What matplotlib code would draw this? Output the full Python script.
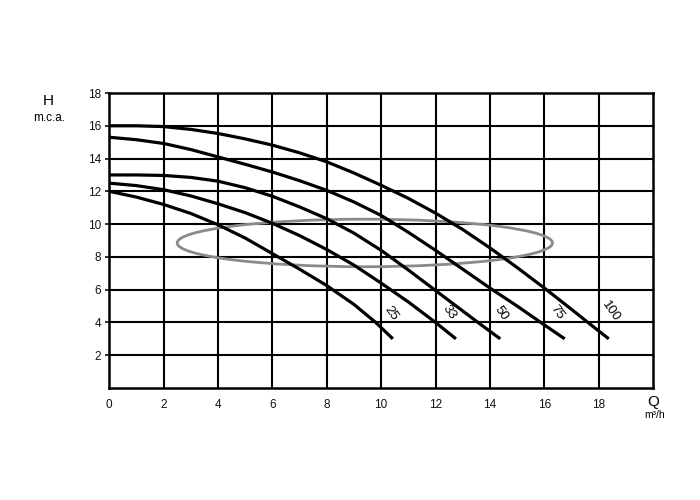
import numpy as np
import matplotlib.pyplot as plt
from matplotlib.patches import Ellipse

plt.rcParams['font.family'] = ['Liberation Sans', 'DejaVu Sans']

# pump curves (Q in m3/h, H in m.c.a.)
q_25 = [0, 1, 2, 3, 4, 5, 6, 7, 8, 9, 9.8, 10.43]
h_25 = [12.0, 11.65, 11.2, 10.65, 9.96, 9.15, 8.2, 7.25, 6.25, 5.1, 4.0, 3.0]

q_33 = [0, 1, 2, 3, 4, 5, 6, 7, 8, 9, 10, 11, 12, 12.75]
h_33 = [12.5, 12.35, 12.1, 11.72, 11.24, 10.7, 10.05, 9.3, 8.45, 7.5, 6.4, 5.25, 4.0, 3.0]

q_50 = [0, 1, 2, 3, 4, 5, 6, 7, 8, 9, 10, 11, 12, 13, 13.6, 14.38]
h_50 = [13.0, 13.0, 12.97, 12.85, 12.62, 12.22, 11.7, 11.05, 10.33, 9.45, 8.4, 7.2, 5.95, 4.7, 3.95, 3.0]

q_75 = [0, 1, 2, 3, 4, 5, 6, 7, 8, 9, 10, 11, 12, 13, 14, 15, 16, 16.75]
h_75 = [15.3, 15.15, 14.92, 14.55, 14.1, 13.65, 13.18, 12.65, 12.06, 11.35, 10.53, 9.5, 8.4,
        7.25, 6.1, 5.0, 3.85, 3.0]

q_100 = [0, 1, 2, 3, 4, 5, 6, 7, 8, 9, 10, 11, 12, 13, 14, 15, 16, 17, 17.64, 18.37]
h_100 = [16.0, 16.0, 15.95, 15.78, 15.53, 15.2, 14.82, 14.35, 13.8, 13.12, 12.37, 11.57, 10.67,
         9.67, 8.55, 7.35, 6.1, 4.8, 3.95, 3.0]

curve_names = ["25", "33", "50", "75", "100"]
label_q = [10.35, 12.5, 14.4, 16.45, 18.45]
label_h = [4.55, 4.6, 4.55, 4.6, 4.7]

# working zone ellipse
zone_center = (9.4, 8.85)
zone_width = 13.8
zone_height = 2.9

x_ticks = [0, 2, 4, 6, 8, 10, 12, 14, 16, 18]
y_ticks = [2, 4, 6, 8, 10, 12, 14, 16, 18]

fig = plt.figure(figsize=(7, 5), dpi=100)
ax = fig.add_axes([0.156, 0.224, 0.777, 0.590])

for x in range(2, 20, 2):
    ax.axvline(x, color='black', lw=1.5, zorder=1)
for y in range(2, 18, 2):
    ax.axhline(y, color='black', lw=1.5, zorder=1)

ax.add_patch(Ellipse(zone_center, zone_width, zone_height, fill=False,
                     edgecolor='#8a8a8a', lw=2.0, zorder=2))

curves = [(q_25, h_25), (q_33, h_33), (q_50, h_50), (q_75, h_75), (q_100, h_100)]
for (q, h), name, lq, lh in zip(curves, curve_names, label_q, label_h):
    ax.plot(q, h, color='black', lw=2.3, zorder=3, solid_capstyle='butt')
    ax.text(lq, lh, name, rotation=-55, fontsize=9.5, ha='center', va='center', zorder=4)

ax.set_xlim(0, 20)
ax.set_ylim(0, 18)
ax.set_xticks(x_ticks)
ax.set_yticks(y_ticks)
ax.tick_params(axis='x', length=0, pad=8, labelsize=8.5, colors='#111111')
ax.tick_params(axis='y', length=3, width=1.2, pad=3, labelsize=8.5, colors='#111111')
for s in ax.spines.values():
    s.set_linewidth(1.8)

fig.text(48 / 700, 1 - 101 / 500, "H", fontsize=11, ha='center', va='center')
fig.text(49 / 700, 1 - 118 / 500, "m.c.a.", fontsize=8.5, ha='center', va='center')
fig.text(653 / 700, 1 - 402 / 500, "Q", fontsize=11, ha='center', va='center')
fig.text(655 / 700, 1 - 415 / 500, "m³/h", fontsize=7.5, ha='center', va='center')

fig.savefig('out.png', dpi=100)
